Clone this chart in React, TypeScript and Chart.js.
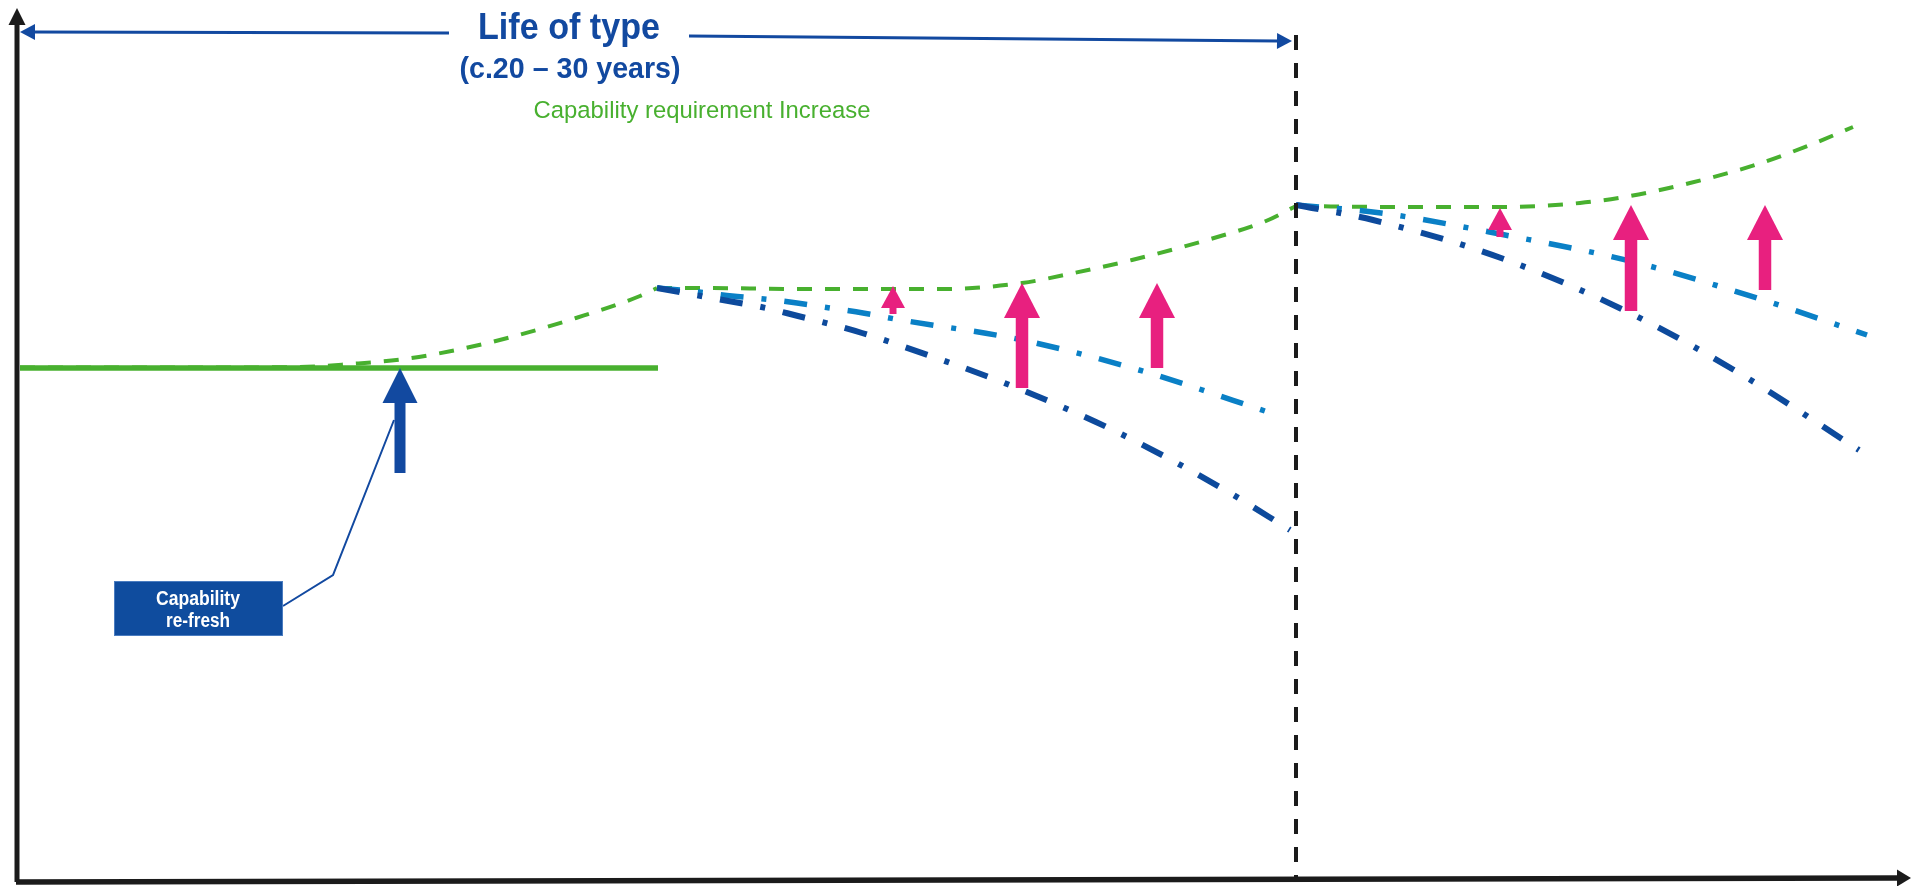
import React, { useEffect, useRef } from "react";
import { Chart, registerables } from "chart.js";

Chart.register(...registerables);

// ---- values: x = time, y = capability ----
const currentCapT = [2.0, 65.8];
const currentCapC = [51.8, 51.8];

const req1T = [2.0, 10, 20, 30, 35.0, 40.5, 46.1, 51.5, 57.6, 64.0, 65.7];
const req1C = [51.85, 51.85, 51.85, 51.9, 52.2, 52.7, 53.7, 55.0, 56.8, 59.0, 59.8];
const req2T = [65.7, 70, 80, 94.4, 102.2, 107.4, 113.2, 121.4, 126.6, 129.6];
const req2C = [59.8, 59.8, 59.7, 59.7, 60.3, 61.3, 62.6, 64.8, 66.5, 68.0];
const req3T = [129.6, 140, 150, 158, 163, 169, 175.5, 181, 185.3];
const req3C = [68.0, 67.9, 67.9, 68.3, 69.0, 70.3, 72.1, 74.1, 75.9];

const fastDecay1T = [65.7, 70.1, 73.4, 76.6, 79.8, 83.0, 86.2, 89.3, 101.7, 111.7, 122.5, 129.0];
const fastDecay1C = [59.8, 59.0, 58.4, 57.8, 57.0, 56.2, 55.3, 54.3, 49.8, 45.4, 39.6, 35.6];
const slowDecay1T = [65.7, 69.9, 73.2, 76.4, 79.7, 83.0, 86.3, 89.5, 102.2, 113.9, 128.0];
const slowDecay1C = [59.8, 59.4, 59.0, 58.7, 58.3, 57.8, 57.3, 56.7, 54.6, 51.6, 47.0];
const fastDecay2T = [129.6, 137.3, 150.1, 163.0, 173.9, 185.9];
const fastDecay2C = [68.1, 66.6, 62.8, 57.3, 51.3, 43.6];
const slowDecay2T = [129.6, 138.1, 150.5, 163.4, 176.3, 186.7];
const slowDecay2C = [68.1, 67.3, 65.1, 62.4, 58.6, 55.1];

const gapArrowT = [89.3, 102.2, 115.7, 150.0, 163.1, 176.5];
const gapArrowFrom = [57.2, 49.8, 51.8, 64.9, 57.5, 59.6];
const gapArrowTo = [60.0, 60.3, 60.3, 67.8, 68.1, 68.1];

const refreshArrowT = [40.0];
const refreshArrowFrom = [41.3];
const refreshArrowTo = [51.8];

const yAxisT = [1.7, 1.7];
const yAxisC = [0.4, 87.8];
const xAxisT = [1.6, 191.1];
const xAxisC = [0.4, 0.8];
const lifeLeftT = [44.9, 2.0];
const lifeLeftC = [85.3, 85.4];
const lifeRightT = [68.9, 129.2];
const lifeRightC = [85.0, 84.5];
const endOfLifeT = [129.6, 129.6];
const endOfLifeC = [85.1, 0.6];

const leaderT = [28.3, 33.3, 39.4];
const leaderC = [28.0, 31.1, 46.6];
const boxT = [11.4, 28.3];
const boxC = [30.5, 25.0];

const titleLines = ["Life of type", "(c.20 \u2013 30 years)"];
const titleT = [56.9, 57.0];
const titleC = [84.7, 80.8];
const reqLabel = "Capability requirement Increase";
const reqLabelT = 70.2;
const reqLabelC = 76.8;
const boxLines = ["Capability", "re-fresh"];
const boxLineT = [19.8, 19.8];
const boxLineC = [28.1, 25.9];

const X_MIN = 0, X_MAX = 191.1, Y_MIN = 0, Y_MAX = 88.6;

// ---- styles ----
const GREEN = "#48b02f";
const DARK_BLUE = "#0d4a9c";
const LIGHT_BLUE = "#0a80c6";
const PINK = "#e8207f";
const TITLE_BLUE = "#1249a0";
const BLACK = "#1b1b1b";
const FONT = '"Liberation Sans", Arial, sans-serif';

const pts = (t: number[], c: number[]) => t.map((v, i) => ({ x: v, y: c[i] }));

function drawArrow(ctx: CanvasRenderingContext2D, x0: number, y0: number, x1: number, y1: number,
  shaftW: number, headLen: number, headW: number, color: string) {
  const dx = x1 - x0, dy = y1 - y0;
  const L = Math.hypot(dx, dy);
  const ux = dx / L, uy = dy / L;
  const bx = x1 - ux * headLen, by = y1 - uy * headLen;
  ctx.save();
  ctx.strokeStyle = color;
  ctx.fillStyle = color;
  ctx.lineWidth = shaftW;
  ctx.lineCap = "butt";
  ctx.setLineDash([]);
  ctx.beginPath();
  ctx.moveTo(x0, y0);
  ctx.lineTo(bx + ux * 1, by + uy * 1);
  ctx.stroke();
  ctx.beginPath();
  ctx.moveTo(x1, y1);
  ctx.lineTo(bx - uy * headW / 2, by + ux * headW / 2);
  ctx.lineTo(bx + uy * headW / 2, by - ux * headW / 2);
  ctx.closePath();
  ctx.fill();
  ctx.restore();
}

function drawText(ctx: CanvasRenderingContext2D, text: string, cx: number, baseline: number,
  size: number, weight: string, color: string, targetW: number) {
  ctx.save();
  ctx.font = `${weight} ${size}px ${FONT}`;
  const w = ctx.measureText(text).width;
  const sx = targetW ? targetW / w : 1;
  ctx.translate(cx, baseline);
  ctx.scale(sx, 1);
  ctx.fillStyle = color;
  ctx.textAlign = "center";
  ctx.textBaseline = "alphabetic";
  ctx.fillText(text, 0, 0);
  ctx.restore();
}

const decorPlugin = {
  id: "decor",
  afterDatasetsDraw(chart: any) {
    const { ctx } = chart;
    const xs = chart.scales.x, ys = chart.scales.y;
    const X = (v: number) => xs.getPixelForValue(v);
    const Y = (v: number) => ys.getPixelForValue(v);

    // axes
    drawArrow(ctx, X(yAxisT[0]), Y(yAxisC[0]), X(yAxisT[1]), Y(yAxisC[1]), 5, 17, 17, BLACK);
    drawArrow(ctx, X(xAxisT[0]), Y(xAxisC[0]), X(xAxisT[1]), Y(xAxisC[1]), 5.5, 14, 17, BLACK);

    // life of type arrows
    drawArrow(ctx, X(lifeLeftT[0]), Y(lifeLeftC[0]), X(lifeLeftT[1]), Y(lifeLeftC[1]), 3, 15, 16, TITLE_BLUE);
    drawArrow(ctx, X(lifeRightT[0]), Y(lifeRightC[0]), X(lifeRightT[1]), Y(lifeRightC[1]), 3, 15, 16, TITLE_BLUE);

    // capability gap arrows
    gapArrowT.forEach((t, i) => {
      const x = X(t), y0 = Y(gapArrowFrom[i]), y1 = Y(gapArrowTo[i]);
      const small = Math.abs(y0 - y1) < 45;
      if (small) drawArrow(ctx, x, y0, x, y1, 7, 22, 24, PINK);
      else drawArrow(ctx, x, y0, x, y1, 12.5, 35, 36, PINK);
    });

    // capability refresh arrow
    refreshArrowT.forEach((t, i) => {
      drawArrow(ctx, X(t), Y(refreshArrowFrom[i]), X(t), Y(refreshArrowTo[i]), 11, 35, 35, TITLE_BLUE);
    });

    // callout box
    const bx0 = X(boxT[0]), bx1 = X(boxT[1]), by0 = Y(boxC[0]), by1 = Y(boxC[1]);
    ctx.save();
    ctx.fillStyle = "#0f4c9e";
    ctx.fillRect(bx0, by0, bx1 - bx0, by1 - by0);
    ctx.strokeStyle = "#4a7cc0";
    ctx.lineWidth = 1;
    ctx.strokeRect(bx0 + 0.5, by0 + 0.5, bx1 - bx0 - 1, by1 - by0 - 1);
    ctx.restore();
    drawText(ctx, boxLines[0], X(boxLineT[0]), Y(boxLineC[0]), 20, "bold", "#ffffff", 84);
    drawText(ctx, boxLines[1], X(boxLineT[1]), Y(boxLineC[1]), 20, "bold", "#ffffff", 64);

    // titles
    drawText(ctx, titleLines[0], X(titleT[0]), Y(titleC[0]), 37, "bold", TITLE_BLUE, 182);
    drawText(ctx, titleLines[1], X(titleT[1]), Y(titleC[1]), 29, "bold", TITLE_BLUE, 221);
    drawText(ctx, reqLabel, X(reqLabelT), Y(reqLabelC), 24.5, "normal", GREEN, 337);
  },
};

export default function App() {
  const ref = useRef<HTMLCanvasElement | null>(null);

  useEffect(() => {
    document.body.style.margin = "0";
    const common = { pointRadius: 0, pointHoverRadius: 0, fill: false, clip: false as any, borderCapStyle: "butt" as const };
    const chart = new Chart(ref.current as HTMLCanvasElement, {
      type: "line",
      data: {
        datasets: [
          { ...common, label: "Capability refresh leader", data: pts(leaderT, leaderC), borderColor: TITLE_BLUE, borderWidth: 2, tension: 0, order: 0 },
          { ...common, label: "End of life", data: pts(endOfLifeT, endOfLifeC), borderColor: BLACK, borderWidth: 4, borderDash: [15, 13], tension: 0, order: 1 },
          { ...common, label: "Capability decline (fast) 1", data: pts(fastDecay1T, fastDecay1C), borderColor: DARK_BLUE, borderWidth: 6, borderDash: [23, 18, 5, 18], cubicInterpolationMode: "monotone", order: 2 },
          { ...common, label: "Capability decline (fast) 2", data: pts(fastDecay2T, fastDecay2C), borderColor: DARK_BLUE, borderWidth: 6, borderDash: [23, 18, 5, 18], cubicInterpolationMode: "monotone", order: 2 },
          { ...common, label: "Capability decline (slow) 1", data: pts(slowDecay1T, slowDecay1C), borderColor: LIGHT_BLUE, borderWidth: 5.5, borderDash: [23, 18, 5, 18], cubicInterpolationMode: "monotone", order: 3 },
          { ...common, label: "Capability decline (slow) 2", data: pts(slowDecay2T, slowDecay2C), borderColor: LIGHT_BLUE, borderWidth: 5.5, borderDash: [23, 18, 5, 18], cubicInterpolationMode: "monotone", order: 3 },
          { ...common, label: "Current capability", data: pts(currentCapT, currentCapC), borderColor: GREEN, borderWidth: 5.5, tension: 0, order: 4 },
          { ...common, label: "Requirement 1", data: pts(req1T, req1C), borderColor: GREEN, borderWidth: 4, borderDash: [15, 13], cubicInterpolationMode: "monotone", order: 5 },
          { ...common, label: "Requirement 2", data: pts(req2T, req2C), borderColor: GREEN, borderWidth: 4, borderDash: [15, 13], cubicInterpolationMode: "monotone", order: 5 },
          { ...common, label: "Requirement 3", data: pts(req3T, req3C), borderColor: GREEN, borderWidth: 4, borderDash: [15, 13], cubicInterpolationMode: "monotone", order: 5 },
        ] as any,
      },
      options: {
        responsive: false,
        animation: false,
        events: [],
        layout: { padding: 0 },
        scales: {
          x: { type: "linear", min: X_MIN, max: X_MAX, display: false },
          y: { type: "linear", min: Y_MIN, max: Y_MAX, display: false },
        },
        plugins: { legend: { display: false }, tooltip: { enabled: false }, title: { display: false } },
      },
      plugins: [decorPlugin],
    });
    return () => chart.destroy();
  }, []);

  return (
    <div style={{ position: "fixed", left: 0, top: 0, width: 1911, height: 886, background: "#ffffff" }}>
      <canvas ref={ref} width={1911} height={886} style={{ display: "block", width: 1911, height: 886 }} />
    </div>
  );
}
